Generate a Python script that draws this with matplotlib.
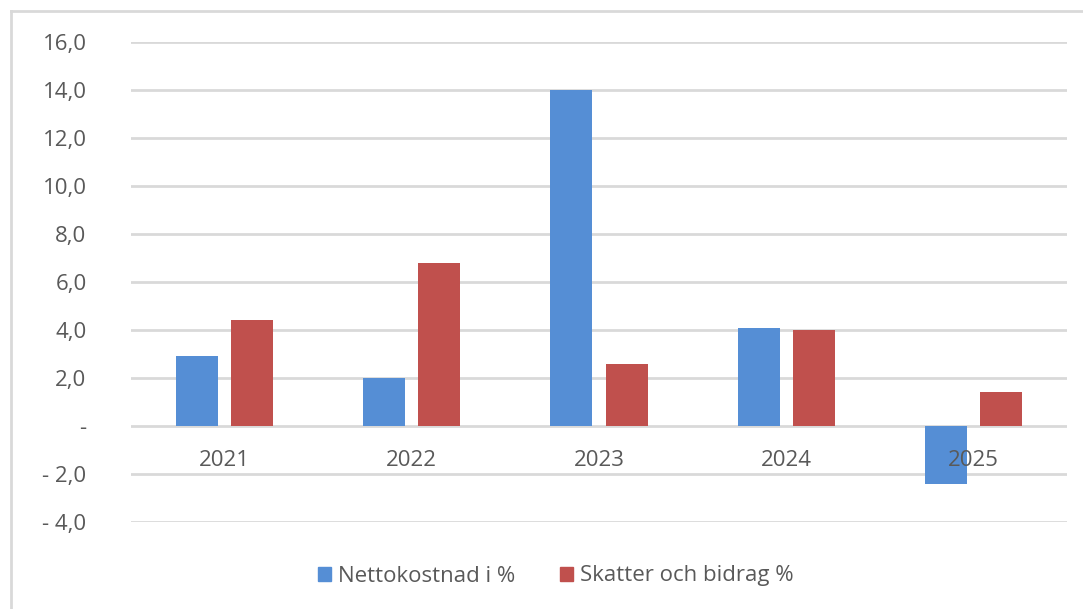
import matplotlib
matplotlib.use("Agg")
import matplotlib.pyplot as plt
from matplotlib.lines import Line2D
from matplotlib.patches import Patch
import numpy as np

years = ["2021", "2022", "2023", "2024", "2025"]
netto = [2.9, 2.0, 14.0, 4.1, -2.4]
skatter = [4.4, 6.8, 2.6, 4.0, 1.4]
series_names = ["Nettokostnad i %", "Skatter och bidrag %"]
yticks = [-4, -2, 0, 2, 4, 6, 8, 10, 12, 14, 16]

blue = "#558ED5"
red = "#C0504D"
grid = "#D9D9D9"
txt = "#595959"

plt.rcParams['font.family'] = ['Open Sans', 'DejaVu Sans']

W, H = 1083, 609
fig = plt.figure(figsize=(W / 100, H / 100), dpi=100)
ax = fig.add_axes([131 / W, 1 - 522 / H, (1067 - 131) / W, (522 - 42) / H])

x = np.arange(len(years))
bw = 0.225
gap = 0.07
ax.bar(x - (bw + gap) / 2, netto, bw, color=blue, zorder=3, label=series_names[0])
ax.bar(x + (bw + gap) / 2, skatter, bw, color=red, zorder=3, label=series_names[1])

ax.set_xlim(-0.5, len(years) - 0.5)
ax.set_ylim(-4, 16)
ax.set_yticks(yticks)

def fmt(v):
    if v == 0:
        return "-"
    s = f"{abs(v):.1f}".replace(".", ",")
    return ("- " + s) if v < 0 else s

ax.set_yticklabels([fmt(v) for v in yticks])
ax.tick_params(axis='y', length=0, pad=32, labelsize=16, labelcolor=txt)
ax.set_xticks([])
ax.grid(axis='y', color=grid, linewidth=2, zorder=0)
for s in ax.spines.values():
    s.set_visible(False)

for i, y in enumerate(years):
    ax.annotate(y, (i, 0), xytext=(0, -25), textcoords='offset points',
                ha='center', va='center', fontsize=16, color=txt, zorder=5)

handles = [Patch(color=blue), Patch(color=red)]
fig.legend(handles, series_names, loc='center', bbox_to_anchor=(0.513, 1 - 576 / H),
           ncol=2, frameon=False, fontsize=16, labelcolor=txt,
           handlelength=0.6, handleheight=0.6, handletextpad=0.3, columnspacing=2.0)

fig.add_artist(Line2D([10.5 / W, 10.5 / W], [0, 1 - 11 / H], color=grid, linewidth=2, transform=fig.transFigure))
fig.add_artist(Line2D([10.5 / W, 1], [1 - 11 / H, 1 - 11 / H], color=grid, linewidth=2, transform=fig.transFigure))

fig.savefig("out.png", dpi=100, facecolor="white")
